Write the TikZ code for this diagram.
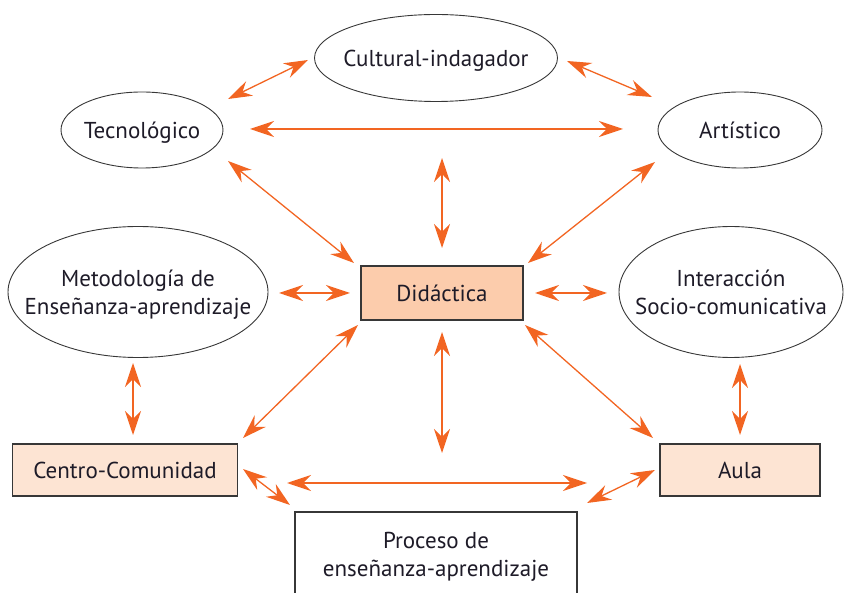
\documentclass[tikz,border=0pt]{standalone}
\usepackage{fontspec}
\setmainfont{PT Sans}
\usetikzlibrary{shapes.geometric,arrows.meta}
\definecolor{arrcol}{RGB}{242,101,34}
\definecolor{txtcol}{RGB}{30,27,40}
\definecolor{linecol}{RGB}{55,55,55}
\definecolor{didfill}{RGB}{252,204,172}
\definecolor{lightfill}{RGB}{253,228,211}
\newcommand{\ctxt}[1]{\raisebox{-3pt}[\height][\depth]{\makebox[0pt]{\begin{tabular}{@{}c@{}}#1\end{tabular}}}}
\tikzset{
  ell/.style={ellipse, draw=linecol, line width=0.9pt, inner sep=0pt, text=txtcol},
  boxnode/.style={rectangle, draw=linecol, line width=1.1pt, inner sep=0pt, text=txtcol},
  arr/.style={draw=arrcol, line width=1.3pt, {Stealth[length=24pt,width=16pt,inset=8pt]}-{Stealth[length=24pt,width=16pt,inset=8pt]}},
}
\begin{document}
\begin{tikzpicture}[x=1pt,y=-1pt,font=\fontsize{23}{28}\selectfont]
\useasboundingbox (0,0) rectangle (849,593);
\clip (0,0) rectangle (849,593);
\node[ell, minimum width=243, minimum height=87] (cult) at (436,58) {\ctxt{Cultural-indagador}};
\node[ell, minimum width=162, minimum height=76] (tec) at (142,130) {\ctxt{Tecnológico}};
\node[ell, minimum width=164, minimum height=76] (art) at (740,130) {\ctxt{Artístico}};
\node[ell, minimum width=260, minimum height=131] (met) at (138,292) {\ctxt{Metodología de\\Enseñanza-aprendizaje}};
\node[ell, minimum width=224, minimum height=131] (inter) at (731,292) {\ctxt{Interacción\\Socio-comunicativa}};
\node[boxnode, fill=didfill, minimum width=162, minimum height=54] (did) at (442,293) {Didáctica};
\node[boxnode, fill=lightfill, minimum width=225, minimum height=52] (cen) at (125,470) {Centro-Comunidad};
\node[boxnode, fill=lightfill, minimum width=160, minimum height=52] (aula) at (740,470) {Aula};
\node[boxnode, fill=white, minimum width=282, minimum height=90, align=center] (proc) at (436,557) {Proceso de\\enseñanza-aprendizaje};

\draw[arr] ([shift={(86,-31)}]tec.center) -- ([shift={(-128,2)}]cult.center);
\draw[arr] ([shift={(131,3)}]cult.center) -- ([shift={(-88,-33)}]art.center);
\draw[arr] ([shift={(108,-1)}]tec.center) -- ([shift={(-117,-1)}]art.center);
\draw[arr] ([shift={(6,100)}]cult.center) -- ([shift={(0,-45)}]did.center);
\draw[arr] ([shift={(86,31)}]tec.center) -- ([shift={(-88,-30)}]did.center);
\draw[arr] ([shift={(-85,32)}]art.center) -- ([shift={(86,-30)}]did.center);
\draw[arr] ([shift={(141,1)}]met.center) -- ([shift={(-92,0)}]did.center);
\draw[arr] ([shift={(93,0)}]did.center) -- ([shift={(-124,1)}]inter.center);
\draw[arr] ([shift={(-84,32)}]did.center) -- ([shift={(118,-32)}]cen.center);
\draw[arr] ([shift={(0,39)}]did.center) -- ([shift={(6,-104)}]proc.center);
\draw[arr] ([shift={(83,32)}]did.center) -- ([shift={(-87,-32)}]aula.center);
\draw[arr] ([shift={(-5,71)}]met.center) -- ([shift={(8,-35)}]cen.center);
\draw[arr] ([shift={(9,72)}]inter.center) -- ([shift={(0,-35)}]aula.center);
\draw[arr] ([shift={(118,-1)}]cen.center) -- ([shift={(-146,-52)}]proc.center);
\draw[arr] ([shift={(162,13)}]cen.center) -- ([shift={(-153,13)}]aula.center);
\draw[arr] ([shift={(-85,0)}]aula.center) -- ([shift={(151,-54)}]proc.center);
\end{tikzpicture}
\end{document}
